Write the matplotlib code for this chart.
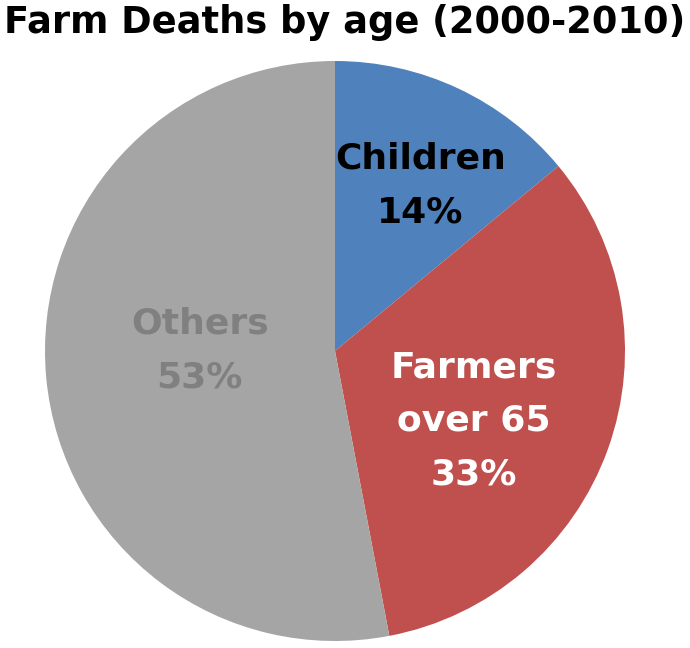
"""
Farm deaths by age group, 2000-2010, as a pie chart
"""
import matplotlib.pyplot as plt

# chart data
groups = ["Children", "Farmers\nover 65", "Others"]
shares = [14, 33, 53]
pct_labels = ["14%", "33%", "53%"]

colors = ["#4F81BD", "#C0504D", "#A5A5A5"]
text_colors = ["black", "white", "#808080"]
# where each label block sits, in pie radius units
label_pos = [(0.295, 0.571), (0.479, -0.240), (-0.466, 0.002)]

fig = plt.figure(figsize=(6.9, 6.48), dpi=100)
# axes box is 580x580 px centred on the pie
ax = fig.add_axes([45 / 690, 7 / 648, 580 / 690, 580 / 648])

wedges, _ = ax.pie(shares, colors=colors, startangle=90, counterclock=False,
                   radius=1.0, wedgeprops=dict(linewidth=0))

for name, pct, tc, (x, y) in zip(groups, pct_labels, text_colors, label_pos):
    ax.text(x, y, name + "\n" + pct, ha="center", va="center",
            color=tc, fontsize=26, fontweight="bold",
            family="DejaVu Sans", linespacing=1.72)

ax.set_xlim(-1, 1)
ax.set_ylim(-1, 1)
ax.set_aspect("equal")
ax.axis("off")

fig.text(0.5, 1 - 33 / 648, "Farm Deaths by age (2000-2010)",
         ha="center", va="baseline", fontsize=26.5, fontweight="bold",
         family="DejaVu Sans", color="black")

fig.savefig("out.png", dpi=100, facecolor="white")
